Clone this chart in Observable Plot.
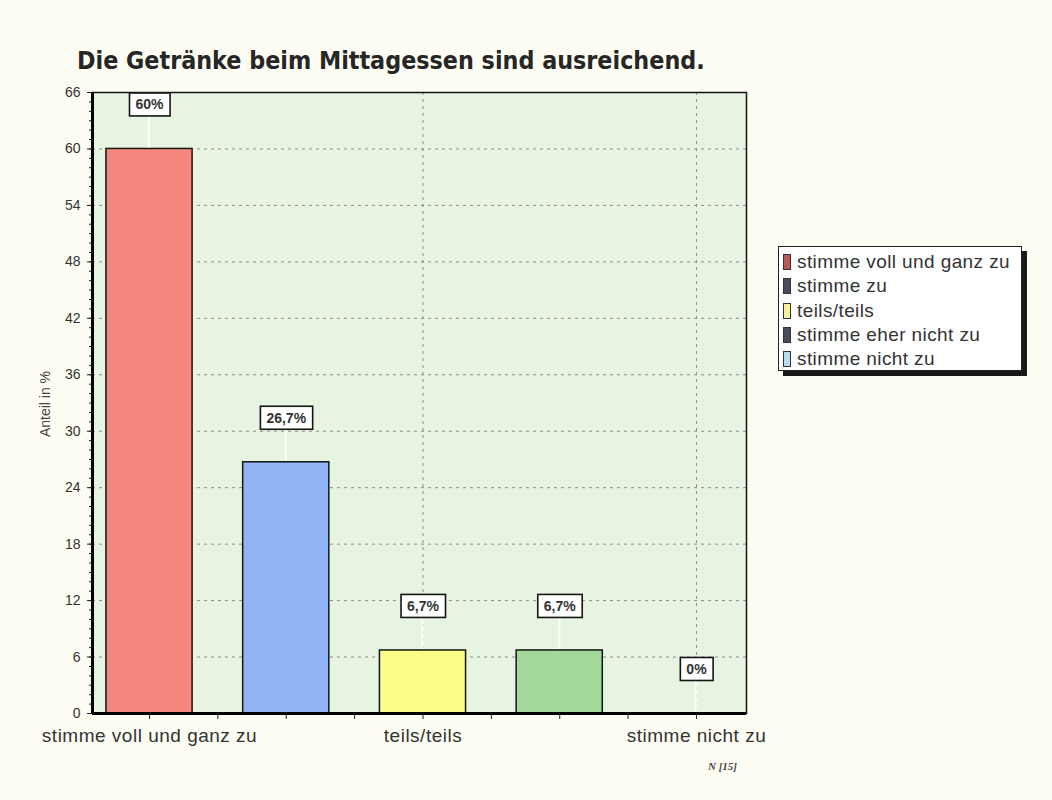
<!DOCTYPE html>
<html><head><meta charset="utf-8">
<script src="https://cdn.jsdelivr.net/npm/d3@7"></script>
<script src="https://cdn.jsdelivr.net/npm/@observablehq/plot@0.6"></script>
<style>
body{margin:0;background:#fdfdf3;width:1052px;height:800px;overflow:hidden;font-family:"Liberation Sans",Arial,sans-serif;}
#wrap{position:relative;width:1052px;height:800px;}
#title{position:absolute;left:77px;top:47px;font-family:"DejaVu Sans Condensed","DejaVu Sans",sans-serif;font-weight:bold;font-size:24.8px;line-height:28px;color:#262626;white-space:nowrap;}
#chart{position:absolute;left:0;top:80px;}
#legend{position:absolute;left:778px;top:246px;width:244px;height:125px;background:#fff;border:1.5px solid #222;box-shadow:5px 5px 0 #1a1a1a;padding-top:3px;box-sizing:border-box;}
.li{height:24.3px;line-height:24.3px;font-size:19px;letter-spacing:0.4px;color:#333;white-space:nowrap;display:flex;align-items:center;}
.sw{display:inline-block;width:6px;height:14px;border:1px solid #333;margin-left:4px;margin-right:6px;flex:none;}
#note{position:absolute;left:708px;top:760px;font-family:"Liberation Serif",serif;font-style:italic;font-weight:bold;font-size:11px;color:#444;}
#ylab{position:absolute;left:45px;top:404px;transform:translate(-50%,-50%) rotate(-90deg);font-size:14px;color:#444;white-space:nowrap;}
</style></head>
<body><div id="wrap">
<div id="title">Die Getränke beim Mittagessen sind ausreichend.</div>
<div id="chart"></div>
<div id="ylab">Anteil in %</div>
<div id="legend"></div>
<div id="note">N [15]</div>
</div>
<script>
const categories = ["stimme voll und ganz zu", "stimme zu", "teils/teils", "stimme eher nicht zu", "stimme nicht zu"];
const values = [60, 26.7, 6.7, 6.7, 0];
const valueLabels = ["60%", "26,7%", "6,7%", "6,7%", "0%"];
const barColors = ["#f5877f", "#90b4f5", "#fcfc88", "#a2d99a", "#a8d0e8"];
const legendColors = ["#b55a55", "#4a4a58", "#f8f39a", "#4a4a58", "#b8dcee"];
const yTicks = [0, 6, 12, 18, 24, 30, 36, 42, 48, 54, 60, 66];
const labeledCategories = ["stimme voll und ganz zu", "teils/teils", "stimme nicht zu"];

const data = categories.map((c, i) => ({i, c, v: values[i], label: valueLabels[i], color: barColors[i]}));
const xDomain = [-0.417, 4.366];
const halfBar = 0.315;

const plot = Plot.plot({
  width: 1052, height: 720,
  marginLeft: 92, marginRight: 306, marginTop: 12, marginBottom: 87,
  style: {background: "transparent", fontFamily: "Liberation Sans, Arial, sans-serif", overflow: "visible"},
  x: {type: "linear", domain: xDomain, axis: null},
  y: {domain: [0, 66], axis: null},
  marks: [
    Plot.frame({fill: "#e7f4e1", stroke: null}),
    Plot.gridY(yTicks.filter(d => d > 0 && d < 66), {stroke: "#8c8c8c", strokeOpacity: 1, strokeDasharray: "3,4", strokeWidth: 1}),
    Plot.gridX(categories.map((c, i) => i).filter(i => labeledCategories.includes(categories[i]) && i > 0), {stroke: "#8c8c8c", strokeOpacity: 1, strokeDasharray: "3,4", strokeWidth: 1}),
    Plot.rectY(data.filter(d => d.v > 0), {x1: d => d.i - halfBar, x2: d => d.i + halfBar, y1: 0, y2: "v", fill: "color", stroke: "#151515", strokeWidth: 1.5}),
    Plot.text(data, {x: "i", y: "v", text: "label", dy: -44, fontSize: 14, fontWeight: "bold", fill: "#333"}),
    Plot.frame({stroke: "#151515", strokeWidth: 1.5}),
    Plot.ruleX([xDomain[0]], {stroke: "#000", strokeWidth: 3}),
    Plot.ruleY([0], {stroke: "#000", strokeWidth: 3}),
    Plot.axisY({ticks: d3.range(0, 67, 1), tickSize: 3, tickFormat: () => "", stroke: "#222", label: null}),
    Plot.axisY({ticks: yTicks, tickSize: 5, tickPadding: 7, fontSize: 14, fill: "#333", stroke: "#222", label: null, tickFormat: d => String(d)}),
    Plot.axisX({ticks: d3.range(0, 4.01, 0.5), tickSize: 6, tickPadding: 9, fontSize: 19, fill: "#333", stroke: "#222", label: null,
      tickFormat: d => { const c = categories[d]; return (Number.isInteger(d) && labeledCategories.includes(c)) ? c : ""; }})
  ]
});
document.getElementById("chart").appendChild(plot);
// widen x tick labels slightly to match the reference lettering
plot.querySelectorAll('g[aria-label="x-axis tick label"] text').forEach(t => t.style.letterSpacing = "0.5px");

// label boxes and connectors
const xs = plot.scale("x"), ys = plot.scale("y");
const textG = plot.querySelector('g[aria-label="text"]');
const connG = document.createElementNS("http://www.w3.org/2000/svg", "g");
textG.parentNode.insertBefore(connG, textG);
data.forEach(d => {
  const x = xs.apply(d.i), y = ys.apply(d.v);
  const ln = document.createElementNS("http://www.w3.org/2000/svg", "line");
  ln.setAttribute("x1", x); ln.setAttribute("x2", x);
  ln.setAttribute("y1", y - 1); ln.setAttribute("y2", y - 32);
  ln.setAttribute("stroke", "#ffffff"); ln.setAttribute("stroke-width", 2.5); ln.setAttribute("stroke-opacity", 0.8);
  connG.appendChild(ln);
});
textG.querySelectorAll("text").forEach(t => {
  const b = t.getBBox();
  const r = document.createElementNS("http://www.w3.org/2000/svg", "rect");
  r.setAttribute("x", b.x - 6); r.setAttribute("y", b.y - 3.5);
  r.setAttribute("width", b.width + 12); r.setAttribute("height", b.height + 7);
  r.setAttribute("fill", "#fff"); r.setAttribute("stroke", "#151515"); r.setAttribute("stroke-width", 1.6);
  if (t.getAttribute("transform")) r.setAttribute("transform", t.getAttribute("transform"));
  t.parentNode.insertBefore(r, t);
});

// legend
const leg = document.getElementById("legend");
categories.forEach((c, i) => {
  const row = document.createElement("div"); row.className = "li";
  const sw = document.createElement("span"); sw.className = "sw"; sw.style.background = legendColors[i];
  row.appendChild(sw); row.appendChild(document.createTextNode(c));
  leg.appendChild(row);
});
</script>
</body></html>
